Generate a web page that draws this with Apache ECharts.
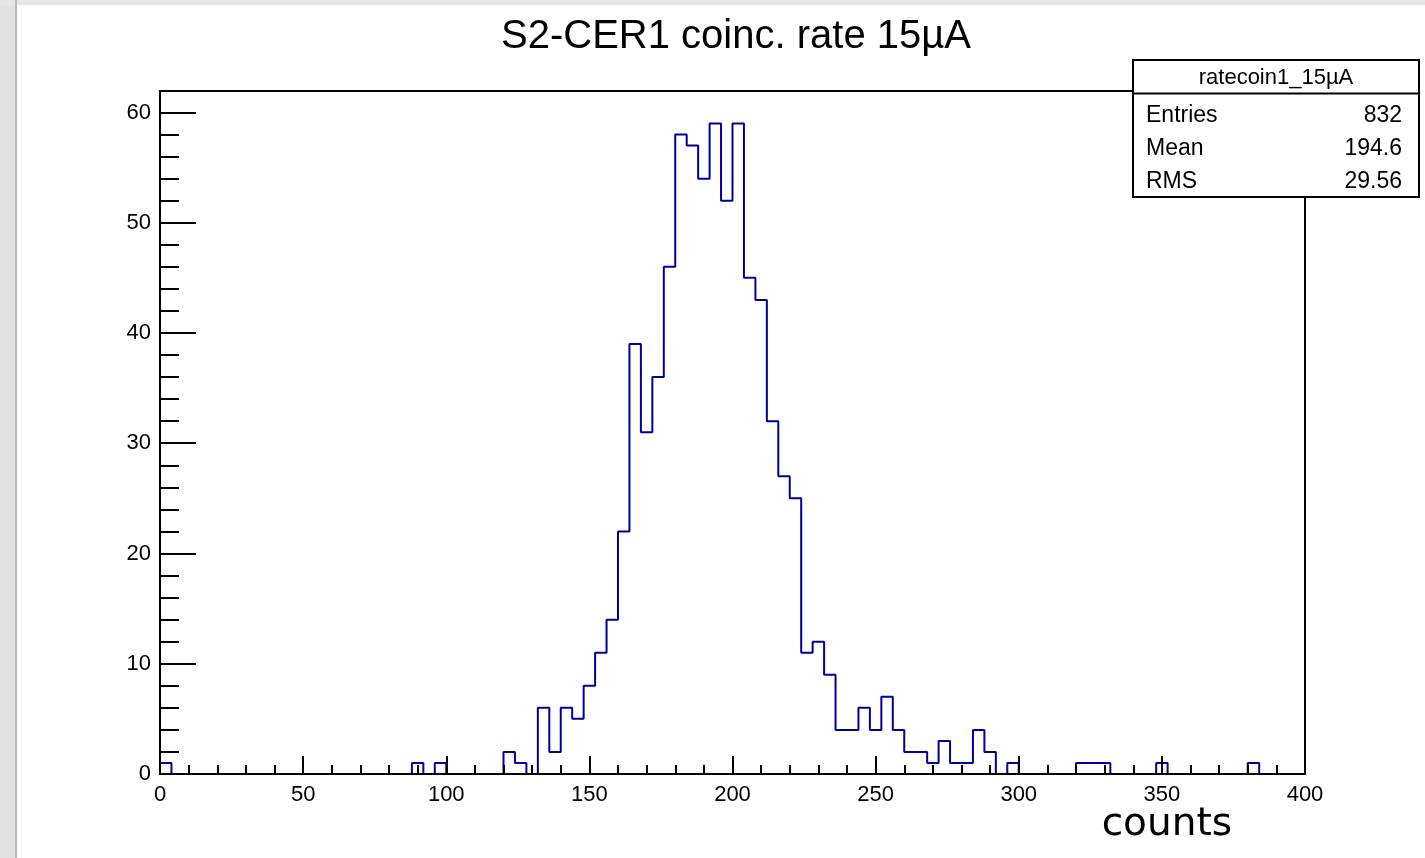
<!DOCTYPE html>
<html>
<head>
<meta charset="utf-8">
<script src="https://cdn.jsdelivr.net/npm/echarts@6/dist/echarts.min.js"></script>
<style>
html,body{margin:0;padding:0;background:#fff;}
#chart{width:1425px;height:858px;}
</style>
</head>
<body>
<div id="chart"></div>
<script>
// ---- data ----
const titleText = 'S2-CER1 coinc. rate 15\u00b5A';
const xAxisLabel = 'counts';
const binWidth = 4;
const binCounts = [
  1, 0, 0, 0, 0, 0, 0, 0, 0, 0,
  0, 0, 0, 0, 0, 0, 0, 0, 0, 0,
  0, 0, 1, 0, 1, 0, 0, 0, 0, 0,
  2, 1, 0, 6, 2, 6, 5, 8, 11, 14,
  22, 39, 31, 36, 46, 58, 57, 54, 59, 52,
  59, 45, 43, 32, 27, 25, 11, 12, 9, 4,
  4, 6, 4, 7, 4, 2, 2, 1, 3, 1,
  1, 4, 2, 0, 1, 0, 0, 0, 0, 0,
  1, 1, 1, 0, 0, 0, 0, 1, 0, 0,
  0, 0, 0, 0, 0, 1, 0, 0, 0, 0
];
const xMin = 0, xMax = 400, xMajor = 50;
const yMin = 0, yMax = 61.95;
const yMajorTicks = [0, 10, 20, 30, 40, 50, 60];
const yMinorTicks = [0, 2, 4, 6, 8, 10, 12, 14, 16, 18, 20, 22, 24, 26, 28, 30, 32, 34, 36, 38, 40, 42, 44, 46, 48, 50, 52, 54, 56, 58, 60];
const statsTitle = 'ratecoin1_15\u00b5A';
const statsNames = ['Entries', 'Mean', 'RMS'];
const statsValues = ['832', '194.6', '29.56'];

// ---- build step outline ----
const outline = [[xMin, 0]];
binCounts.forEach((c, i) => outline.push([xMin + i * binWidth, c]));
outline.push([xMax, binCounts[binCounts.length - 1]]);
outline.push([xMax, 0]);

const chart = echarts.init(document.getElementById('chart'), null, {renderer: 'canvas'});
const F = 'Liberation Sans, Arial, Helvetica, sans-serif';
const blue = '#00009c';

const statsGraphics = [];
const bx = 1133, by = 60, bw = 286, bh = 137;
statsGraphics.push({type: 'rect', shape: {x: bx, y: by, width: bw, height: bh}, style: {fill: '#fff', stroke: '#000', lineWidth: 2}, z: 100});
statsGraphics.push({type: 'line', shape: {x1: bx, y1: 93.5, x2: bx + bw, y2: 93.5}, style: {stroke: '#000', lineWidth: 2}, z: 101});
statsGraphics.push({type: 'text', x: bx + bw / 2, y: 78, style: {text: statsTitle, font: '22px ' + F, fill: '#000', textAlign: 'center', textVerticalAlign: 'middle'}, z: 101});
statsNames.forEach((n, i) => {
  const yy = 116 + i * 33;
  statsGraphics.push({type: 'text', x: 1146, y: yy, style: {text: n, font: '23px ' + F, fill: '#000', textAlign: 'left', textVerticalAlign: 'middle'}, z: 101});
  statsGraphics.push({type: 'text', x: 1402, y: yy, style: {text: statsValues[i], font: '23px ' + F, fill: '#000', textAlign: 'right', textVerticalAlign: 'middle'}, z: 101});
});

const option = {
  animation: false,
  backgroundColor: '#fff',
  grid: {left: 160, top: 91, right: 120, bottom: 84, show: true, borderColor: '#000', borderWidth: 2, backgroundColor: 'transparent'},
  xAxis: {
    type: 'value', min: xMin, max: xMax, interval: xMajor, z: 5,
    axisLine: {show: true, lineStyle: {color: '#000', width: 2}},
    axisTick: {show: true, inside: true, length: 18, lineStyle: {color: '#000', width: 2}},
    minorTick: {show: true, splitNumber: 5, length: 9, lineStyle: {color: '#000', width: 2}},
    splitLine: {show: false},
    minorSplitLine: {show: false},
    axisLabel: {color: '#000', fontFamily: F, fontSize: 22, margin: 10}
  },
  yAxis: [{
    type: 'value', min: yMin, max: yMax, z: 5,
    axisLine: {show: true, lineStyle: {color: '#000', width: 2}},
    axisTick: {show: true, inside: true, length: 36, customValues: yMajorTicks, lineStyle: {color: '#000', width: 2}},
    axisLabel: {color: '#000', fontFamily: F, fontSize: 22, margin: 9, customValues: yMajorTicks},
    splitLine: {show: false}
  }, {
    type: 'value', min: yMin, max: yMax, position: 'left', z: 5,
    axisLine: {show: false},
    axisTick: {show: true, inside: true, length: 19, customValues: yMinorTicks, lineStyle: {color: '#000', width: 2}},
    axisLabel: {show: false},
    splitLine: {show: false}
  }],
  series: [{
    type: 'line', step: 'end', data: outline, showSymbol: false, symbol: 'none',
    lineStyle: {color: blue, width: 2}, z: 2, clip: true
  }],
  graphic: [
    {type: 'rect', shape: {x: 0, y: 0, width: 16, height: 858}, style: {fill: '#e1e1e1'}, z: 50},
    {type: 'line', shape: {x1: 16, y1: 0, x2: 16, y2: 858}, style: {stroke: '#b9b9b9', lineWidth: 2}, z: 51},
    {type: 'rect', shape: {x: 0, y: 0, width: 1425, height: 5}, style: {fill: '#e6e6e6'}, z: 50},
    {type: 'text', x: 736, y: 37, style: {text: titleText, font: '40px ' + F, fill: '#000', textAlign: 'center', textVerticalAlign: 'middle'}, z: 60},
    {type: 'text', x: 1232, y: 825, style: {text: xAxisLabel, font: '39px DejaVu Sans', fill: '#000', textAlign: 'right', textVerticalAlign: 'middle'}, z: 60}
  ].concat(statsGraphics)
};
chart.setOption(option);
</script>
</body>
</html>
